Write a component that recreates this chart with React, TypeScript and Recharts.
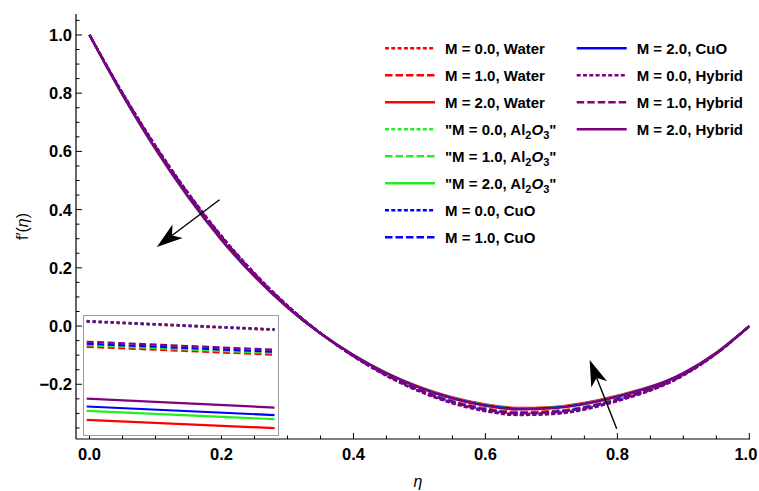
import React from 'react';
import { LineChart, Line, XAxis, YAxis, ReferenceLine, Legend } from 'recharts';

// ---------- main chart data ----------
const etaValues = [0, 0.05, 0.1, 0.2, 0.3, 0.4, 0.5, 0.6, 0.65, 0.7, 0.8, 0.9, 0.95, 1.0];

const waterM0 = [1, 0.800, 0.617, 0.307, 0.069, -0.103, -0.222, -0.288, -0.301, -0.298, -0.254, -0.168, -0.094, 0];
const waterM1 = [1, 0.798, 0.614, 0.304, 0.067, -0.102, -0.218, -0.283, -0.295, -0.292, -0.250, -0.166, -0.093, 0];
const waterM2 = [1, 0.794, 0.607, 0.295, 0.063, -0.099, -0.209, -0.269, -0.281, -0.278, -0.239, -0.161, -0.091, 0];
const al2o3M0 = [1, 0.800, 0.618, 0.308, 0.070, -0.103, -0.223, -0.290, -0.303, -0.300, -0.256, -0.169, -0.094, 0];
const al2o3M1 = [1, 0.798, 0.615, 0.305, 0.068, -0.102, -0.219, -0.285, -0.297, -0.294, -0.251, -0.167, -0.093, 0];
const al2o3M2 = [1, 0.794, 0.608, 0.296, 0.064, -0.099, -0.210, -0.271, -0.283, -0.280, -0.241, -0.162, -0.091, 0];
const cuoM0 = [1, 0.801, 0.619, 0.309, 0.070, -0.104, -0.224, -0.291, -0.304, -0.301, -0.257, -0.169, -0.095, 0];
const cuoM1 = [1, 0.799, 0.616, 0.306, 0.068, -0.103, -0.220, -0.286, -0.298, -0.295, -0.252, -0.167, -0.094, 0];
const cuoM2 = [1, 0.795, 0.609, 0.297, 0.064, -0.100, -0.211, -0.272, -0.284, -0.281, -0.242, -0.162, -0.092, 0];
const hybridM0 = [1, 0.801, 0.620, 0.310, 0.071, -0.104, -0.225, -0.293, -0.306, -0.303, -0.258, -0.170, -0.095, 0];
const hybridM1 = [1, 0.799, 0.617, 0.307, 0.069, -0.103, -0.221, -0.288, -0.300, -0.297, -0.254, -0.168, -0.094, 0];
const hybridM2 = [1, 0.795, 0.610, 0.298, 0.065, -0.100, -0.212, -0.274, -0.286, -0.283, -0.243, -0.163, -0.092, 0];

// ---------- inset data (zoomed view, normalised units) ----------
const insetX = [0.014, 0.987];
const insetWaterM0 = [0.951, 0.881];
const insetWaterM1 = [0.739, 0.672];
const insetWaterM2 = [0.120, 0.050];
const insetAl2o3M0 = [0.953, 0.883];
const insetAl2o3M1 = [0.752, 0.685];
const insetAl2o3M2 = [0.196, 0.126];
const insetCuoM0 = [0.955, 0.885];
const insetCuoM1 = [0.765, 0.697];
const insetCuoM2 = [0.233, 0.160];
const insetHybridM0 = [0.958, 0.888];
const insetHybridM1 = [0.782, 0.714];
const insetHybridM2 = [0.300, 0.224];

// ---------- ticks ----------
const xTicks = [0, 0.05, 0.1, 0.15, 0.2, 0.25, 0.3, 0.35, 0.4, 0.45, 0.5, 0.55, 0.6, 0.65, 0.7, 0.75, 0.8, 0.85, 0.9, 0.95, 1.0];
const xMajorTicks = [0, 0.2, 0.4, 0.6, 0.8, 1.0];
const yTicks = [-0.35, -0.3, -0.25, -0.2, -0.15, -0.1, -0.05, 0, 0.05, 0.1, 0.15, 0.2, 0.25, 0.3, 0.35, 0.4, 0.45, 0.5, 0.55, 0.6, 0.65, 0.7, 0.75, 0.8, 0.85, 0.9, 0.95, 1.0, 1.05];
const yMajorTicks = [-0.2, 0, 0.2, 0.4, 0.6, 0.8, 1.0];

// ---------- arrow annotations (data coordinates) ----------
const arrowDown = [{ x: 0.197, y: 0.434 }, { x: 0.102, y: 0.272 }];
const arrowUp = [{ x: 0.799, y: -0.353 }, { x: 0.758, y: -0.117 }];

const X_DOMAIN: [number, number] = [-0.0205, 1.001];
const Y_DOMAIN: [number, number] = [-0.388, 1.072];

const FONT = '"Liberation Sans", Arial, Helvetica, sans-serif';
const RED = '#ff0000';
const GREEN = '#22ee22';
const BLUE = '#0000ff';
const PURPLE = '#800080';
const DOT = '4 2.3';
const DASH = '7.5 3';

type S = { key: string; values: number[]; inset: number[]; m: string; fluid: string; color: string; dash?: string };

const series: S[] = [
  { key: 'waterM0', values: waterM0, inset: insetWaterM0, m: '0.0', fluid: 'Water', color: RED, dash: DOT },
  { key: 'waterM1', values: waterM1, inset: insetWaterM1, m: '1.0', fluid: 'Water', color: RED, dash: DASH },
  { key: 'waterM2', values: waterM2, inset: insetWaterM2, m: '2.0', fluid: 'Water', color: RED },
  { key: 'al2o3M0', values: al2o3M0, inset: insetAl2o3M0, m: '0.0', fluid: 'Al2O3', color: GREEN, dash: DOT },
  { key: 'al2o3M1', values: al2o3M1, inset: insetAl2o3M1, m: '1.0', fluid: 'Al2O3', color: GREEN, dash: DASH },
  { key: 'al2o3M2', values: al2o3M2, inset: insetAl2o3M2, m: '2.0', fluid: 'Al2O3', color: GREEN },
  { key: 'cuoM0', values: cuoM0, inset: insetCuoM0, m: '0.0', fluid: 'CuO', color: BLUE, dash: DOT },
  { key: 'cuoM1', values: cuoM1, inset: insetCuoM1, m: '1.0', fluid: 'CuO', color: BLUE, dash: DASH },
  { key: 'cuoM2', values: cuoM2, inset: insetCuoM2, m: '2.0', fluid: 'CuO', color: BLUE },
  { key: 'hybridM0', values: hybridM0, inset: insetHybridM0, m: '0.0', fluid: 'Hybrid', color: PURPLE, dash: DOT },
  { key: 'hybridM1', values: hybridM1, inset: insetHybridM1, m: '1.0', fluid: 'Hybrid', color: PURPLE, dash: DASH },
  { key: 'hybridM2', values: hybridM2, inset: insetHybridM2, m: '2.0', fluid: 'Hybrid', color: PURPLE },
];

const mainData = etaValues.map((eta, i) => {
  const row: Record<string, number> = { eta };
  series.forEach((s) => { row[s.key] = s.values[i]; });
  return row;
});

const insetData = insetX.map((x, i) => {
  const row: Record<string, number> = { x };
  series.forEach((s) => { row[s.key] = s.inset[i]; });
  return row;
});

const isMajor = (v: number, list: number[]) => list.some((m) => Math.abs(m - v) < 1e-6);
const fmt = (v: number) => (v < -1e-9 ? '\u2212' + Math.abs(v).toFixed(1) : Math.abs(v).toFixed(1));

const tickText = { fontFamily: FONT, fontWeight: 700, fontSize: 16.5, fill: '#000' } as const;

const renderBottomTick = (p: any) => {
  const v = p.payload.value;
  const major = isMajor(v, xMajorTicks);
  const last = Math.abs(v - 1) < 1e-6;
  return (
    <g>
      <line x1={p.x} x2={p.x} y1={p.y} y2={p.y - (major ? 6 : 3.5)} stroke="#000" strokeWidth={1} />
      {major && (
        <text x={last ? p.x + 8 : p.x} y={p.y + 20.8} textAnchor={last ? 'end' : 'middle'} {...tickText}>{fmt(v)}</text>
      )}
    </g>
  );
};

const renderTopTick = (p: any) => {
  const major = isMajor(p.payload.value, xMajorTicks);
  return <line x1={p.x} x2={p.x} y1={p.y} y2={p.y + (major ? 6 : 3.5)} stroke="#000" strokeWidth={1} />;
};

const renderLeftTick = (p: any) => {
  const v = p.payload.value;
  const major = isMajor(v, yMajorTicks);
  return (
    <g>
      <line x1={p.x} x2={p.x + (major ? 6 : 3.5)} y1={p.y} y2={p.y} stroke="#000" strokeWidth={1} />
      {major && (
        <text x={p.x - 4} y={p.y} dy="0.36em" textAnchor="end" {...tickText}>{fmt(v)}</text>
      )}
    </g>
  );
};

const renderRightTick = (p: any) => {
  const major = isMajor(p.payload.value, yMajorTicks);
  return <line x1={p.x} x2={p.x - (major ? 6 : 3.5)} y1={p.y} y2={p.y} stroke="#000" strokeWidth={1} />;
};

const renderXLabel = (p: any) => {
  const vb = p && p.viewBox ? p.viewBox : { x: 76, y: 439, width: 674, height: 52 };
  return (
    <text x={vb.x + vb.width / 2 + 5} y={vb.y + 48} textAnchor="middle" fontFamily={FONT} fontStyle="italic" fontSize={16} fill="#000">
      η
    </text>
  );
};

const renderYLabel = (p: any) => {
  const vb = p && p.viewBox ? p.viewBox : { x: 0, y: 14, width: 76, height: 425 };
  const cx = vb.x + 22;
  const cy = vb.y + vb.height / 2;
  return (
    <text x={cx} y={cy} dy="0.35em" textAnchor="middle" transform={`rotate(-90 ${cx} ${cy})`} fontFamily={FONT} fontSize={16} fill="#000">
      f′(<tspan fontStyle="italic">η</tspan>)
    </text>
  );
};

const Arrow = (props: any) => {
  const { x1, y1, x2, y2 } = props;
  const dx = x2 - x1;
  const dy = y2 - y1;
  const len = Math.hypot(dx, dy) || 1;
  const ux = dx / len;
  const uy = dy / len;
  const px = -uy;
  const py = ux;
  const L = 26;
  const W = 8.5;
  const N = 19;
  const bx = x2 - ux * L;
  const by = y2 - uy * L;
  const nx = x2 - ux * N;
  const ny = y2 - uy * N;
  const pts = `${x2},${y2} ${bx + px * W},${by + py * W} ${nx},${ny} ${bx - px * W},${by - py * W}`;
  return (
    <g>
      <line x1={x1} y1={y1} x2={nx} y2={ny} stroke="#000" strokeWidth={1.4} />
      <polygon points={pts} fill="#000" />
    </g>
  );
};

const legendLabel = (s: S) => {
  if (s.fluid === 'Al2O3') {
    return (
      <>
        {`"M = ${s.m}, Al`}
        <tspan dy={4} fontSize={11}>2</tspan>
        <tspan dy={-4} fontStyle="italic">O</tspan>
        <tspan dy={4} fontSize={11}>3</tspan>
        <tspan dy={-4}>"</tspan>
      </>
    );
  }
  return `M = ${s.m}, ${s.fluid}`;
};

const renderLegend = () => (
  <svg width={380} height={222} style={{ overflow: 'visible', display: 'block' }}>
    {series.map((s, i) => {
      const col = i < 8 ? 0 : 1;
      const row = i < 8 ? i : i - 8;
      const x0 = col === 0 ? 5 : 196.7;
      const y = 14.3 + row * 26.99;
      return (
        <g key={s.key}>
          <line x1={x0} x2={x0 + 50} y1={y} y2={y} stroke={s.color} strokeWidth={2.6} strokeDasharray={s.dash} />
          <text x={x0 + 60} y={y} dy="0.36em" fontFamily={FONT} fontWeight={700} fontSize={15} fill="#000">
            {legendLabel(s)}
          </text>
        </g>
      );
    })}
  </svg>
);

export default function App() {
  return (
    <div style={{ position: 'absolute', left: 0, top: 0, width: 759, height: 491, background: '#fff', overflow: 'hidden' }}>
      <LineChart width={759} height={491} data={mainData} margin={{ top: 14, right: 9, left: 0, bottom: 0 }}>
        <XAxis
          xAxisId="x" type="number" dataKey="eta" domain={X_DOMAIN} allowDataOverflow ticks={xTicks} interval={0}
          tickLine={false} tickSize={0} tickMargin={0} height={52} axisLine={{ stroke: '#000', strokeWidth: 1.2 }}
          tick={renderBottomTick} label={renderXLabel}
        />
        <XAxis
          xAxisId="top" orientation="top" type="number" dataKey="eta" domain={X_DOMAIN} allowDataOverflow ticks={xTicks} interval={0}
          tickLine={false} tickSize={0} tickMargin={0} height={0} axisLine={{ stroke: '#000', strokeWidth: 1.2 }}
          tick={renderTopTick}
        />
        <YAxis
          yAxisId="y" type="number" domain={Y_DOMAIN} allowDataOverflow ticks={yTicks} interval={0}
          tickLine={false} tickSize={0} tickMargin={0} width={76} axisLine={{ stroke: '#000', strokeWidth: 1.2 }}
          tick={renderLeftTick} label={renderYLabel}
        />
        <YAxis
          yAxisId="right" orientation="right" type="number" domain={Y_DOMAIN} allowDataOverflow ticks={yTicks} interval={0}
          tickLine={false} tickSize={0} tickMargin={0} width={0} axisLine={{ stroke: '#000', strokeWidth: 1.2 }}
          tick={renderRightTick}
        />
        {series.map((s) => (
          <Line
            key={s.key} xAxisId="x" yAxisId="y" dataKey={s.key} type="monotone" stroke={s.color} strokeWidth={2.2}
            strokeDasharray={s.dash} dot={false} activeDot={false} isAnimationActive={false}
          />
        ))}
        <ReferenceLine xAxisId="x" yAxisId="y" segment={arrowDown} shape={Arrow} />
        <ReferenceLine xAxisId="x" yAxisId="y" segment={arrowUp} shape={Arrow} />
        <Legend
          layout="vertical" align="center" verticalAlign="middle" content={renderLegend}
          wrapperStyle={{ position: 'absolute', left: 380, top: 34, width: 380, height: 222 }}
        />
      </LineChart>
      <div
        style={{
          position: 'absolute', left: 83, top: 315, width: 196, height: 121, boxSizing: 'border-box',
          border: '1.5px solid #9c9c9c', background: '#fff',
        }}
      >
        <LineChart width={193} height={118} data={insetData} margin={{ top: 0, right: 0, left: 0, bottom: 0 }}>
          <XAxis type="number" dataKey="x" domain={[0, 1]} hide />
          <YAxis type="number" domain={[0, 1]} hide />
          {series.map((s) => (
            <Line
              key={s.key} dataKey={s.key} type="linear" stroke={s.color} strokeWidth={2.2}
              strokeDasharray={s.dash === DOT ? '3 3' : s.dash === DASH ? '7 3.5' : undefined}
              dot={false} activeDot={false} isAnimationActive={false}
            />
          ))}
        </LineChart>
      </div>
    </div>
  );
}
